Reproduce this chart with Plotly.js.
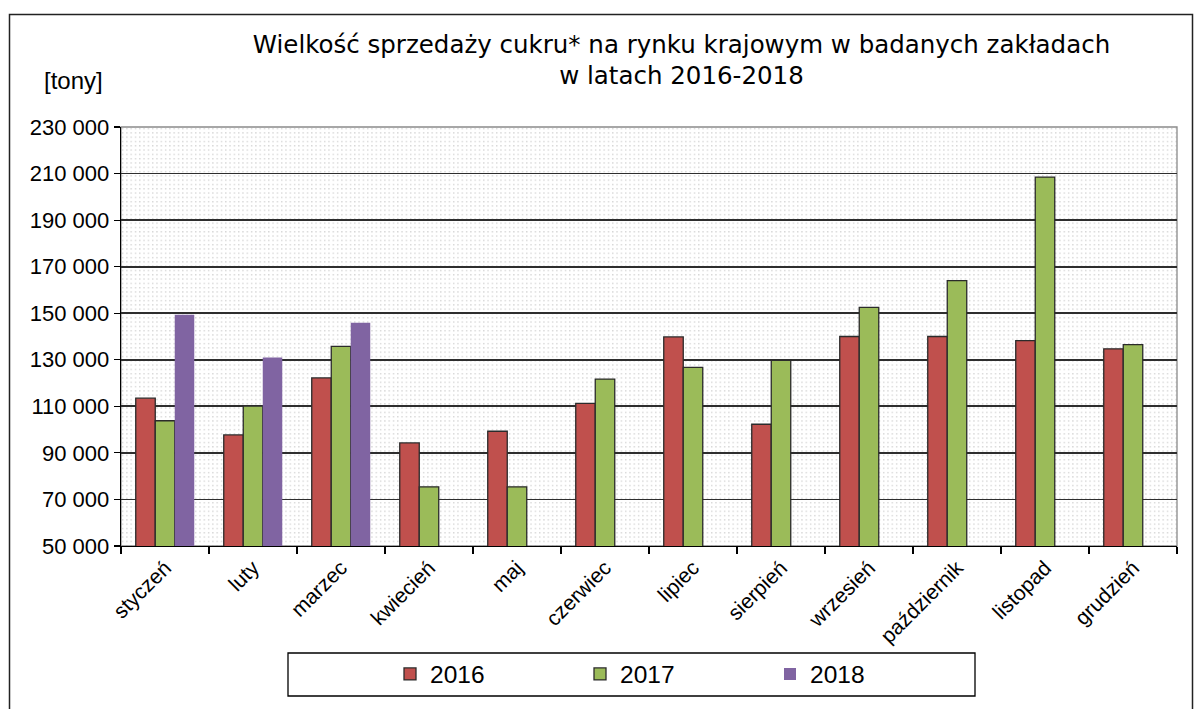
<!DOCTYPE html>
<html>
<head>
<meta charset="utf-8">
<script src="https://cdn.plot.ly/plotly-3.0.1.min.js"></script>
<style>
html,body{margin:0;padding:0;background:#fff;}
#chart{width:1195px;height:709px;}
</style>
</head>
<body>
<div id="chart"></div>
<script>
const months = ['styczeń','luty','marzec','kwiecień','maj','czerwiec','lipiec','sierpień','wrzesień','październik','listopad','grudzień'];
const s2016 = [113500, 97700, 122200, 94300, 99300, 111300, 139800, 102300, 140000, 140000, 138200, 134700];
const s2017 = [103800, 110100, 135800, 75400, 75400, 121700, 126700, 129800, 152500, 164000, 208500, 136500];
const s2018 = [149300, 131000, 145900, null, null, null, null, null, null, null, null, null];
const seriesNames = ['2016','2017','2018'];
const yTicks = [50000, 70000, 90000, 110000, 130000, 150000, 170000, 190000, 210000, 230000];

const W = 1195, H = 709;
const L = 121, R = 18, T = 127, B = 163;
const pw = W - L - R, ph = H - T - B;
function px(x){ return (x - L) / pw; }
function py(y){ return (H - B - y) / ph; }

const dots = "data:image/svg+xml;charset=utf-8," + encodeURIComponent(
  "<svg xmlns='http://www.w3.org/2000/svg' width='" + pw + "' height='" + ph + "'>" +
  "<defs><pattern id='p' width='4.3' height='4.3' patternUnits='userSpaceOnUse'>" +
  "<rect x='1' y='1' width='1.2' height='1.2' fill='#c6c6c6'/></pattern></defs>" +
  "<rect width='100%' height='100%' fill='#ffffff'/>" +
  "<rect width='100%' height='100%' fill='url(#p)'/></svg>");

const traces = [
  {type:'bar', name:seriesNames[0], x:months, y:s2016,
   marker:{color:'#C0504D', line:{color:'#2b2b2b', width:1.3}}},
  {type:'bar', name:seriesNames[1], x:months, y:s2017,
   marker:{color:'#9BBB59', line:{color:'#2b2b2b', width:1.3}}},
  {type:'bar', name:seriesNames[2], x:months, y:s2018,
   marker:{color:'#8064A2', line:{color:'#8064A2', width:0}}}
];

const layout = {
  width: W, height: H,
  margin:{l:L, r:R, t:T, b:B, pad:0},
  paper_bgcolor:'#ffffff',
  plot_bgcolor:'rgba(0,0,0,0)',
  separators:', ',
  barmode:'group',
  bargap:0.335,
  bargroupgap:0,
  showlegend:true,
  title:{
    text:'Wielkość sprzedaży cukru* na rynku krajowym w badanych zakładach<br>w latach 2016-2018',
    font:{family:'"Comic Sans MS", "DejaVu Sans", sans-serif', size:24.5, color:'#000'},
    x:0.5703, xref:'container', xanchor:'center',
    y:0.9258, yref:'container', yanchor:'top'
  },
  font:{family:'"Liberation Sans", Arial, sans-serif', color:'#000'},
  xaxis:{
    type:'category',
    tickson:'boundaries',
    ticks:'outside', ticklen:7, tickcolor:'#000', tickwidth:1.2,
    tickangle:-45,
    tickfont:{size:21, color:'#000'},
    showline:true, linecolor:'#000', linewidth:1.3,
    showgrid:false, zeroline:false
  },
  yaxis:{
    range:[50000, 230000],
    tickvals:yTicks,
    tickformat:',d',
    ticks:'outside', ticklen:6, tickcolor:'#000', tickwidth:1.2,
    tickfont:{size:22, color:'#000'},
    showline:true, linecolor:'#000', linewidth:1.3,
    showgrid:true, gridcolor:'#2e2e2e', gridwidth:1.7,
    zeroline:false
  },
  legend:{
    orientation:'h',
    x:px(390), xanchor:'left',
    y:py(674), yanchor:'middle',
    font:{size:24.5, color:'#000'},
    entrywidth:145, entrywidthmode:'pixels',
    bgcolor:'rgba(0,0,0,0)', borderwidth:0,
    itemclick:false
  },
  images:[{
    source:dots, xref:'paper', yref:'paper', x:0, y:1, sizex:1, sizey:1,
    sizing:'stretch', xanchor:'left', yanchor:'top', layer:'below'
  }],
  shapes:[
    {type:'rect', xref:'paper', yref:'paper', x0:0, x1:1, y0:0, y1:1,
     line:{color:'#8a8a8a', width:1.3}, layer:'below'},
    {type:'rect', xref:'paper', yref:'paper', x0:px(288), x1:px(975), y0:py(696), y1:py(653),
     line:{color:'#000', width:1.3}},
    {type:'rect', xref:'paper', yref:'paper', x0:px(9.5), x1:px(1192.5), y0:py(760), y1:py(14.5),
     line:{color:'#222', width:1.5}}
  ],
  annotations:[
    {text:'[tony]', xref:'paper', yref:'paper', x:px(42), y:py(80), xanchor:'left', yanchor:'middle',
     showarrow:false, font:{size:24, color:'#000', family:'"Liberation Sans", Arial, sans-serif'}}
  ]
};

Plotly.newPlot('chart', traces, layout, {displayModeBar:false, staticPlot:true});
</script>
</body>
</html>
